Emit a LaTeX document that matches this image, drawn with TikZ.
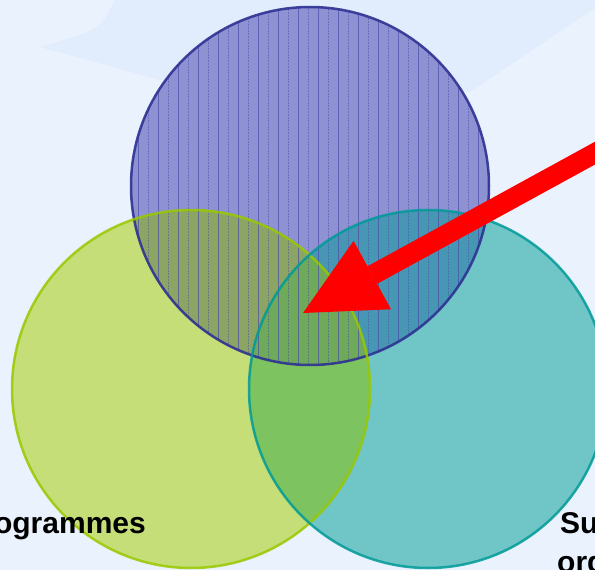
\documentclass[tikz,border=0pt]{standalone}
\usepackage{fontspec}
\setmainfont{Liberation Sans}
\usetikzlibrary{arrows.meta}
\usetikzlibrary{positioning}

\definecolor{bgblue}{HTML}{EAF2FD}
\definecolor{bandblue}{HTML}{E1EDFC}
\definecolor{setblue}{HTML}{8E91D2}
\definecolor{lineblue}{HTML}{2E3192}
\definecolor{hatchblue}{HTML}{4A4DA8}
\definecolor{setgreen}{HTML}{C5DE78}
\definecolor{linegreen}{HTML}{99C800}
\definecolor{setteal}{HTML}{70C5C6}
\definecolor{lineteal}{HTML}{009A98}
\definecolor{olivemix}{HTML}{8CA564}
\definecolor{deepteal}{HTML}{4696B4}
\definecolor{midgreen}{HTML}{7DC35F}
\definecolor{coregreen}{HTML}{6EAA5A}

\begin{document}
\begin{tikzpicture}[x=1pt, y=-1pt,
    setdisc/.style={circle, minimum size=358pt, inner sep=0pt},
    setlabel/.style={font=\bfseries\fontsize{30}{36}\selectfont, inner sep=0pt}]
    \useasboundingbox (0,0) rectangle (595,570);

    % background
    \fill [bgblue] (0,0) rectangle (595,570);
    \fill [bandblue] (40,47) -- (160,80) -- (470,92) -- (595,8) -- (595,0) -- (115,0) .. controls (100,30) .. (40,47);

    \node [setdisc, fill=setblue] (blueset) at (310,186) {};
    \node [setdisc, fill=setgreen] (greenset) at (191,389) {};
    \node [setdisc, fill=setteal] (tealset) at (428,389) {};

    % overlaps
    \begin{scope}
        \clip (greenset.center) circle (179);
        \fill [midgreen] (tealset.center) circle (179);
    \end{scope}
    \begin{scope}
        \clip (blueset.center) circle (179);
        \fill [olivemix] (greenset.center) circle (179);
        \fill [deepteal] (tealset.center) circle (179);
        \clip (greenset.center) circle (179);
        \fill [coregreen] (tealset.center) circle (179);
    \end{scope}

    % hatching
    \begin{scope}
        \clip (blueset.center) circle (179);
        \foreach \x in {138,158,...,498}
            \draw [hatchblue, opacity=0.7, line width=0.8pt] (\x,0) -- (\x,370);
        \foreach \x in {148,168,...,488}
            \draw [hatchblue, opacity=0.5, line width=0.8pt, dash pattern=on 2pt off 1pt] (\x,0) -- (\x,370);
    \end{scope}

    % borders
    \draw [lineblue, line width=2.5pt, opacity=0.9] (blueset.center) circle (179);
    \draw [linegreen, line width=2.5pt, opacity=0.85] (greenset.center) circle (179);
    \draw [lineteal, line width=2.5pt, opacity=0.85] (tealset.center) circle (179);

    \coordinate (tail) at (650,123);
    \coordinate (tip) at (303,313);
    \draw [red, line width=20pt, -{Triangle[length=79pt, width=78pt, line width=0pt]}] (tail) -- (tip);

    \node [setlabel, anchor=base east] (proglabel) at (146,533) {ogrammes};
    \node [setlabel, anchor=base west] (suplabel) at (560,533) {Su};
    \node [setlabel, anchor=base west] (orglabel) at (557,572) {org};
\end{tikzpicture}
\end{document}
